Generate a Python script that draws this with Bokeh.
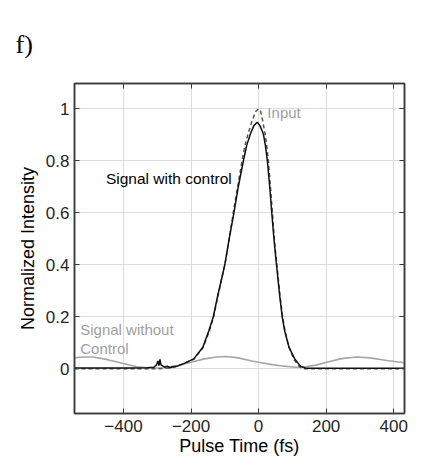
from bokeh.plotting import figure
from bokeh.models import Range1d, FixedTicker, Label, LinearAxis, Title, CustomJSTickFormatter
from bokeh.embed import file_html
from bokeh.resources import INLINE

# Signal with control (black)
ctrl_t = [-545, -450, -380, -330, -310, -302, -298, -295, -292, -289, -285, -278, -270, -262, -255,
          -241, -222, -192, -165, -147, -134, -122, -100, -88, -73, -60, -45, -35, -24, -14, -4,
          4, 14, 20, 26, 33, 39, 46, 53, 63, 70, 77, 90, 107, 124, 140, 250, 432]
ctrl_y = [0.003, 0.003, 0.003, 0.004, 0.006, 0.015, 0.03, 0.012, 0.036, 0.015, 0.012, 0.006, 0.01, 0.004, 0.008,
          0.01, 0.02, 0.038, 0.083, 0.147, 0.2, 0.275, 0.4, 0.493, 0.6, 0.70, 0.80, 0.86, 0.904, 0.935, 0.948,
          0.935, 0.904, 0.86, 0.80, 0.70, 0.60, 0.493, 0.40, 0.275, 0.2, 0.147, 0.083, 0.038, 0.01, 0.002, 0.002, 0.002]

# Input (dashed)
inp_t = [-545, -300, -260, -240, -222, -192, -165, -147, -134, -122, -100, -88, -75, -62, -49, -40, -31,
         -19, -8, 0, 6, 12, 19, 24, 29, 35, 41, 47, 54, 64, 71, 78, 90, 105, 120, 130, 432]
inp_y = [0.0, 0.0, 0.003, 0.01, 0.02, 0.036, 0.08, 0.14, 0.195, 0.27, 0.40, 0.49, 0.60, 0.70, 0.80, 0.86, 0.904,
         0.955, 0.99, 1.0, 0.99, 0.955, 0.904, 0.86, 0.80, 0.70, 0.60, 0.493, 0.40, 0.275, 0.2, 0.147, 0.083,
         0.035, 0.01, 0.0, 0.0]

# Signal without control (gray)
noctrl_t = [-545, -520, -490, -450, -400, -360, -320, -280, -240, -200, -160, -120, -95, -60, -20, 0,
            40, 75, 110, 130, 170, 210, 250, 290, 330, 380, 432]
noctrl_y = [0.042, 0.045, 0.045, 0.036, 0.02, 0.008, 0.003, 0.004, 0.012, 0.025, 0.038, 0.046, 0.047, 0.042,
            0.03, 0.025, 0.016, 0.01, 0.006, 0.006, 0.014, 0.028, 0.04, 0.045, 0.042, 0.032, 0.023]

x_ticks = [-400, -200, 0, 200, 400]
y_ticks = [0, 0.2, 0.4, 0.6, 0.8, 1.0]

FONT = "Liberation Sans"
FRAME = "#3a3a3a"

p = figure(width=425, height=466, output_backend="svg", toolbar_location=None,
           x_range=Range1d(-545, 432), y_range=Range1d(-0.172, 1.097),
           min_border_left=74, min_border_right=21, min_border_top=83, min_border_bottom=53,
           background_fill_color="white", border_fill_color="white")

p.title = Title(text="f)", align="left", offset=-59, text_font="Liberation Serif",
                text_font_size="26px", text_font_style="normal", text_color="#000000",
                standoff=46, text_line_height=0.8, vertical_align="top")

p.outline_line_color = FRAME
p.outline_line_width = 1.5

bottom_ax = p.below[0]
left_ax = p.left[0]
top_ax = LinearAxis(ticker=FixedTicker(ticks=x_ticks), formatter=CustomJSTickFormatter(code="return ''"))
right_ax = LinearAxis(ticker=FixedTicker(ticks=y_ticks), formatter=CustomJSTickFormatter(code="return ''"))
p.add_layout(top_ax, "above")
p.add_layout(right_ax, "right")

for ax in (bottom_ax, left_ax, top_ax, right_ax):
    ax.major_tick_in = 5
    ax.major_tick_out = 0
    ax.minor_tick_in = 0
    ax.minor_tick_out = 0
    ax.axis_line_color = FRAME
    ax.axis_line_width = 1.5
    ax.major_tick_line_color = FRAME
    ax.major_label_text_font = FONT
    ax.major_label_text_font_size = "17px"
    ax.major_label_text_color = "#262626"
    ax.axis_label_text_font = FONT
    ax.axis_label_text_font_size = "18px"
    ax.axis_label_text_font_style = "normal"
    ax.axis_label_text_color = "#000000"

for ax in (top_ax, right_ax):
    ax.major_label_standoff = 0
    ax.major_label_text_font_size = "1px"

bottom_ax.ticker = FixedTicker(ticks=x_ticks)
left_ax.ticker = FixedTicker(ticks=y_ticks)
left_ax.major_label_overrides = {0: "0", 1: "1"}
bottom_ax.axis_label = "Pulse Time (fs)"
left_ax.axis_label = "Normalized Intensity"
bottom_ax.axis_label_standoff = 1
left_ax.axis_label_standoff = 5
bottom_ax.major_label_standoff = 6
left_ax.major_label_standoff = 5

p.xgrid.ticker = FixedTicker(ticks=x_ticks)
p.ygrid.ticker = FixedTicker(ticks=y_ticks)
p.grid.grid_line_color = "#dcdcdc"
p.grid.grid_line_width = 1

p.line(noctrl_t, noctrl_y, line_color="#a6a6a6", line_width=1.6)
p.line(inp_t, inp_y, line_color="#555555", line_width=1.5, line_dash="4 3")
p.line(ctrl_t, ctrl_y, line_color="#111111", line_width=1.5)

p.add_layout(Label(x=26, y=0.985, text="Input", text_font=FONT, text_font_size="15px",
                   text_color="#a0a0a0", text_baseline="middle"))
p.add_layout(Label(x=-452, y=0.732, text="Signal with control", text_font=FONT, text_font_size="15.5px",
                   text_color="#000000", text_baseline="middle"))
p.add_layout(Label(x=-528, y=0.15, text="Signal without", text_font=FONT, text_font_size="15px",
                   text_color="#a0a0a0", text_baseline="middle"))
p.add_layout(Label(x=-528, y=0.078, text="Control", text_font=FONT, text_font_size="15px",
                   text_color="#a0a0a0", text_baseline="middle"))

open("out.html", "w").write(file_html(p, INLINE))
